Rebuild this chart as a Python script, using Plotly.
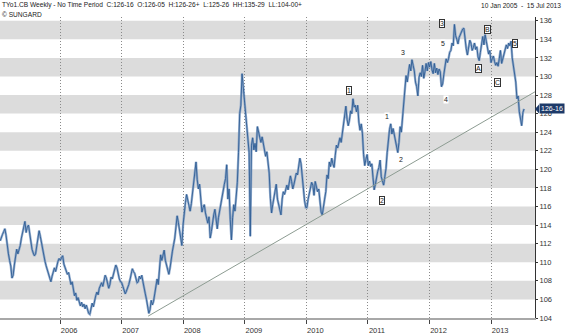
import pandas as pd
import plotly.graph_objects as go

# ---- weekly closes (TYo1 weekly, 10 Jan 2005 - 15 Jul 2013) ----
close_2005 = [112.3, 112.8, 113.0, 113.3, 113.6, 112.9, 111.6, 110.9, 110.2, 109.6, 108.3, 108.6,
              109.7, 110.6, 111.4, 110.9, 111.3, 111.8, 112.6, 113.2, 114.1, 114.4, 113.2, 113.8, 114.0,
              112.9, 112.3, 111.4, 111.0, 110.7, 110.9, 111.8, 112.4, 113.4, 112.8, 112.0, 111.5, 110.7,
              110.1, 109.6, 109.2, 108.6, 108.2, 107.9, 108.5, 108.9, 109.4, 109.0, 109.7, 110.1, 110.4]
close_2006 = [110.2, 110.5, 110.7, 109.8, 109.5, 109.0, 108.7, 108.9, 108.4, 107.6, 107.9, 107.2, 106.4,
              106.7, 105.9, 106.2, 105.6, 105.3, 105.7, 105.2, 105.5, 105.0, 105.4, 104.8, 104.5, 104.4,
              105.0, 105.6, 105.2, 105.9, 106.4, 106.8, 106.5, 107.2, 107.6, 107.8, 107.4, 108.2, 108.6,
              108.3, 107.5, 107.2, 107.6, 108.4, 108.2, 108.7, 109.2, 109.7, 109.4, 108.6, 108.2, 107.9]
close_2007 = [107.8, 107.4, 107.0, 106.6, 106.9, 107.2, 107.6, 108.1, 108.9, 109.3, 109.0, 108.8, 108.3,
              107.8, 107.9, 108.5, 108.2, 108.6, 107.9, 107.4, 106.6, 106.0, 105.0, 104.5, 104.9, 105.9,
              105.4, 105.8, 106.6, 107.5, 108.2, 107.6, 109.8, 110.8, 110.2, 111.0, 111.3, 110.2, 109.6,
              109.2, 108.7, 109.4, 110.6, 111.2, 111.9, 112.6, 113.8, 115.0, 114.3, 113.4, 112.9, 111.8, 114.0]
close_2008 = [115.6, 116.4, 117.3, 116.8, 116.1, 115.5, 116.3, 117.4, 118.3, 119.5, 120.8, 118.9, 117.9,
              118.4, 116.6, 115.4, 115.9, 116.2, 115.3, 114.8, 114.2, 114.9, 112.6, 113.3, 114.4, 115.1,
              115.7, 114.4, 113.6, 114.8, 115.6, 116.3, 116.9, 117.6, 118.4, 119.0, 120.5, 116.8, 117.9,
              114.6, 112.4, 114.8, 116.2, 115.5, 116.9, 118.6, 121.8, 126.0, 126.9, 130.3, 128.9, 127.4]
close_2009 = [125.8, 124.6, 123.2, 121.8, 112.8, 122.6, 123.4, 122.1, 122.8, 121.9, 124.6, 124.1, 123.6,
              122.9, 123.5, 122.7, 121.9, 121.4, 121.9, 120.8, 119.6, 116.9, 115.3, 116.2, 117.0, 117.8,
              118.4, 116.8, 116.3, 115.6, 115.1, 116.8, 117.6, 117.3, 118.0, 118.3, 117.8, 118.7, 119.3,
              118.7, 117.9, 118.4, 119.0, 119.6, 119.4, 120.3, 121.2, 120.6, 119.2, 118.2, 116.6, 115.9]
close_2010 = [115.9, 116.8, 117.4, 118.0, 118.6, 118.3, 117.2, 118.7, 117.9, 117.6, 117.9, 116.4, 115.4,
              115.1, 116.3, 116.8, 117.6, 119.4, 119.0, 120.8, 120.3, 121.2, 120.6, 120.2, 121.5, 122.6,
              122.3, 123.1, 123.4, 122.9, 123.9, 125.0, 126.2, 126.8, 125.4, 124.7, 125.3, 126.3, 126.0,
              127.6, 126.7, 126.9, 126.2, 126.9, 125.1, 124.2, 124.9, 123.9, 121.6, 120.4, 121.1, 121.6]
close_2011 = [120.4, 120.9, 120.3, 120.6, 119.1, 117.8, 118.4, 119.3, 119.8, 120.2, 121.0, 119.2, 118.6,
              118.3, 119.2, 120.1, 121.8, 123.6, 124.3, 124.9, 123.8, 124.4, 123.7, 122.9, 122.4, 121.8,
              122.9, 124.6, 124.0, 125.6, 127.9, 128.8, 130.1, 129.4, 130.6, 131.3, 130.6, 131.8, 131.2,
              130.6, 129.4, 128.9, 127.9, 129.9, 130.4, 130.0, 131.2, 129.8, 130.5, 131.4, 130.6, 131.5]
close_2012 = [131.0, 131.6, 130.7, 130.3, 131.4, 130.4, 130.9, 130.2, 130.8, 130.5, 128.9, 129.2, 130.2,
              130.9, 131.9, 131.5, 131.9, 132.6, 132.8, 133.6, 133.3, 135.6, 134.4, 134.0, 133.5, 134.2,
              134.5, 134.9, 135.1, 135.2, 133.8, 133.0, 132.3, 133.2, 133.9, 133.6, 132.8, 133.1, 133.6,
              132.9, 133.2, 132.1, 131.7, 132.6, 133.3, 134.3, 133.4, 134.5, 133.8, 132.9, 132.4, 132.8, 131.5]
close_2013 = [131.9, 132.2, 131.6, 131.2, 131.5, 131.1, 131.9, 132.8, 131.4, 131.9, 132.4, 133.1,
              133.4, 133.0, 133.6, 133.3, 133.8, 132.0, 131.0, 130.2, 129.4, 127.6, 127.9, 126.2, 125.5,
              124.7, 126.1, 126.5]

closes = close_2005 + close_2006 + close_2007 + close_2008 + close_2009 + close_2010 + close_2011 + close_2012 + close_2013
dates = pd.date_range("2005-01-10", periods=len(closes), freq="W-MON")

# trendline drawn by the analyst (from the 2007 low to the right edge)
trend_dates = ["2007-06-07", "2013-09-18"]
trend_values = [104.2, 128.35]

# Elliott wave labels
plain_labels = ["1", "2", "3", "4", "5"]
plain_dates = ["2011-04-24", "2011-07-17", "2011-07-29", "2012-04-10", "2012-03-24"]
plain_prices = [125.7, 121.1, 132.6, 127.5, 133.5]
box_labels = ["1", "2", "3", "A", "B", "C", "5"]
box_dates = ["2010-09-11", "2011-03-25", "2012-03-18", "2012-10-16", "2012-12-08", "2013-02-06", "2013-05-24"]
box_prices = [128.5, 116.6, 135.7, 130.9, 135.1, 129.3, 133.5]

year_ticks = ["2006-01-01", "2007-01-01", "2008-01-01", "2009-01-01", "2010-01-01", "2011-01-01", "2012-01-01", "2013-01-01"]
year_labels = ["2006", "2007", "2008", "2009", "2010", "2011", "2012", "2013"]
price_ticks = list(range(104, 137, 2))

last_label = "126-16"
last_price = 126.5
header_text = "TYo1.CB Weekly - No Time Period  C:126-16  O:126-05  H:126-26+  L:125-26  HH:135-29  LL:104-00+"
date_text = "10 Jan 2005  -  15 Jul 2013"

FONT = "Liberation Sans"
W, H = 567, 335
ML, MR, MT, MB = 0, 32, 17, 15
PW = W - ML - MR
PH = H - MT - MB

fig = go.Figure()
fig.add_trace(go.Scatter(x=dates, y=closes, mode="lines",
                         line=dict(color="rgba(125,155,195,0.8)", width=2.4), hoverinfo="skip"))
fig.add_trace(go.Scatter(x=dates, y=closes, mode="lines",
                         line=dict(color="#2f5d94", width=0.9)))
fig.add_trace(go.Scatter(x=trend_dates, y=trend_values, mode="lines",
                         line=dict(color="#8d9c92", width=1)))

shapes = []
for lo in range(106, 136, 4):
    shapes.append(dict(type="rect", xref="paper", yref="y", x0=0, x1=1, y0=lo, y1=lo + 2,
                       fillcolor="#dcdcdc", line=dict(width=0), layer="below"))
# arrow of last price tag
ax0 = 1.0
ax1 = 1.0 + 4.0 / PW
shapes.append(dict(type="path", xref="paper", yref="y",
                   path=f"M {ax0} {last_price} L {ax1} {last_price + 0.48} L {ax1} {last_price - 0.48} Z",
                   fillcolor="#1d3a69", line=dict(width=0)))

annotations = []
for t, d, p in zip(plain_labels, plain_dates, plain_prices):
    annotations.append(dict(x=d, y=p, xref="x", yref="y", text=t, showarrow=False,
                            font=dict(family=FONT, size=7, color="#222"), bgcolor="white", borderpad=0))
for t, d, p in zip(box_labels, box_dates, box_prices):
    annotations.append(dict(x=d, y=p, xref="x", yref="y", text=t, showarrow=False,
                            font=dict(family=FONT, size=7, color="#222"), bgcolor="white",
                            bordercolor="#333", borderwidth=1, borderpad=0))

def py(ypx):
    return (H - MB - ypx) / PH

annotations.append(dict(x=0, y=py(5), xref="paper", yref="paper", xanchor="left", yanchor="middle",
                        text=header_text.replace(" ", "\u00a0"), showarrow=False,
                        font=dict(family=FONT, size=6.6, color="#222")))
annotations.append(dict(x=0, y=py(14), xref="paper", yref="paper", xanchor="left", yanchor="middle",
                        text="\u00a9 SUNGARD", showarrow=False,
                        font=dict(family=FONT, size=6.6, color="#222")))
annotations.append(dict(x=563 / PW, y=py(5), xref="paper", yref="paper", xanchor="right", yanchor="middle",
                        text=date_text.replace(" ", "\u00a0"), showarrow=False,
                        font=dict(family=FONT, size=6.6, color="#222")))
annotations.append(dict(x=ax1 - 0.5 / PW, y=last_price, xref="paper", yref="y", xanchor="left", yanchor="middle",
                        text=last_label, showarrow=False, bgcolor="#1d3a69", borderpad=1,
                        font=dict(family=FONT, size=7, color="white")))

fig.update_layout(
    width=W, height=H, margin=dict(l=ML, r=MR, t=MT, b=MB),
    paper_bgcolor="white", plot_bgcolor="white", showlegend=False,
    shapes=shapes, annotations=annotations,
    xaxis=dict(type="date", range=["2005-01-09", "2013-09-18"], tickvals=year_ticks, ticktext=year_labels,
               showgrid=True, gridcolor="#8a8a8a", griddash="1px,2px", gridwidth=1,
               ticks="outside", ticklen=4, tickcolor="#444", tickwidth=1,
               showline=True, linecolor="#a8a8a8", linewidth=2, zeroline=False,
               tickfont=dict(family=FONT, size=7.5, color="#333"), ticklabelshift=9),
    yaxis=dict(side="right", range=[104, 136.4], tickvals=price_ticks,
               showgrid=False, zeroline=False, showline=True, linecolor="#333", linewidth=1,
               ticks="outside", ticklen=2, tickcolor="#333",
               tickfont=dict(family=FONT, size=7.5, color="#333")),
)

fig.write_html("out.html")
